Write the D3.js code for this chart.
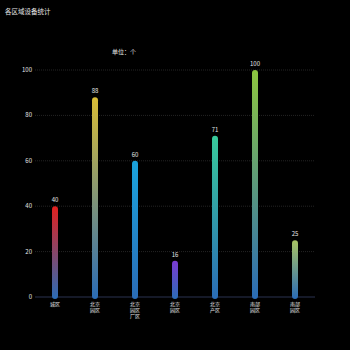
<!DOCTYPE html>
<html>
<head>
<meta charset="utf-8">
<script src="https://cdn.jsdelivr.net/npm/d3@7"></script>
<style>
  html, body { margin: 0; padding: 0; background: #000; }
  text { font-family: "Noto Sans CJK SC", "Noto Sans", sans-serif; }
</style>
</head>
<body>
<div class="chart"></div>
<script>
var categories = ["城区", "北京园区", "北京园区厂区", "北京园区", "北京产区", "南部园区", "南部园区"];
var values = [40, 88, 60, 16, 71, 100, 25];
var topColors = ["#e3201e", "#d9bd36", "#1aa3dc", "#7b3ad2", "#38c99a", "#8dc63f", "#a9c463"];
var yTicks = [0, 20, 40, 60, 80, 100];

var width = 350, height = 350;
var margin = {top: 70, right: 35, bottom: 53, left: 35};

var svg = d3.select(".chart")
            .append("svg")
            .attr("width", width)
            .attr("height", height)
            .style("background", "#000");

var x = d3.scaleBand()
          .domain(d3.range(categories.length))
          .range([margin.left, width - margin.right]);

var y = d3.scaleLinear()
          .domain([0, 100])
          .range([height - margin.bottom, margin.top]);

// gradients, one per bar
var defs = svg.append("defs");
topColors.forEach(function(c, i) {
    var grad = defs.append("linearGradient")
        .attr("id", "g" + i)
        .attr("x1", 0).attr("y1", 0).attr("x2", 0).attr("y2", 1);
    grad.append("stop").attr("offset", "0%").attr("stop-color", c);
    grad.append("stop").attr("offset", "100%").attr("stop-color", "#2a6cb6");
});

// title
svg.append("text")
   .attr("x", 5).attr("y", 14)
   .attr("fill", "#e6e6e6")
   .style("font-size", "6.5px")
   .text("各区域设备统计");

svg.append("text")
   .attr("x", 112).attr("y", 54)
   .attr("fill", "#e6e6e6")
   .style("font-size", "6px")
   .text("单位：个");

// grid lines
svg.selectAll(".grid")
   .data(yTicks.slice(1))
   .enter().append("line")
   .attr("x1", margin.left).attr("x2", width - margin.right)
   .attr("y1", d => y(d)).attr("y2", d => y(d))
   .attr("stroke", "#333")
   .attr("stroke-width", 0.7)
   .attr("stroke-dasharray", "1,1");

// y labels
svg.selectAll(".ylab")
   .data(yTicks)
   .enter().append("text")
   .attr("x", margin.left - 3)
   .attr("y", d => y(d) + 2)
   .attr("text-anchor", "end")
   .attr("fill", "#e6e6e6")
   .style("font-size", "6px")
   .text(d => d);

// x axis line
svg.append("line")
   .attr("x1", margin.left).attr("x2", width - margin.right)
   .attr("y1", y(0)).attr("y2", y(0))
   .attr("stroke", "#2b3350")
   .attr("stroke-width", 1);

// bars
var bw = 6;
svg.selectAll(".bar")
   .data(values)
   .enter().append("rect")
   .attr("x", (d, i) => x(i) + x.bandwidth() / 2 - bw / 2)
   .attr("y", d => y(d))
   .attr("width", bw)
   .attr("height", d => y(0) - y(d) + 2)
   .attr("rx", 3)
   .attr("fill", (d, i) => "url(#g" + i + ")");

// value labels
svg.selectAll(".val")
   .data(values)
   .enter().append("text")
   .attr("x", (d, i) => x(i) + x.bandwidth() / 2)
   .attr("y", d => y(d) - 4)
   .attr("text-anchor", "middle")
   .attr("fill", "#e6e6e6")
   .style("font-size", "6px")
   .text(d => d);

// category labels, two chars per line
var cat = svg.selectAll(".cat")
   .data(categories)
   .enter().append("text")
   .attr("x", (d, i) => x(i) + x.bandwidth() / 2)
   .attr("y", y(0) + 9)
   .attr("text-anchor", "middle")
   .attr("fill", "#e6e6e6")
   .style("font-size", "5px");

cat.each(function(d) {
    var parts = d.match(/.{1,2}/g);
    var t = d3.select(this);
    parts.forEach(function(p, k) {
        t.append("tspan")
         .attr("x", t.attr("x"))
         .attr("dy", k === 0 ? 0 : 6)
         .text(p);
    });
});
</script>
</body>
</html>
